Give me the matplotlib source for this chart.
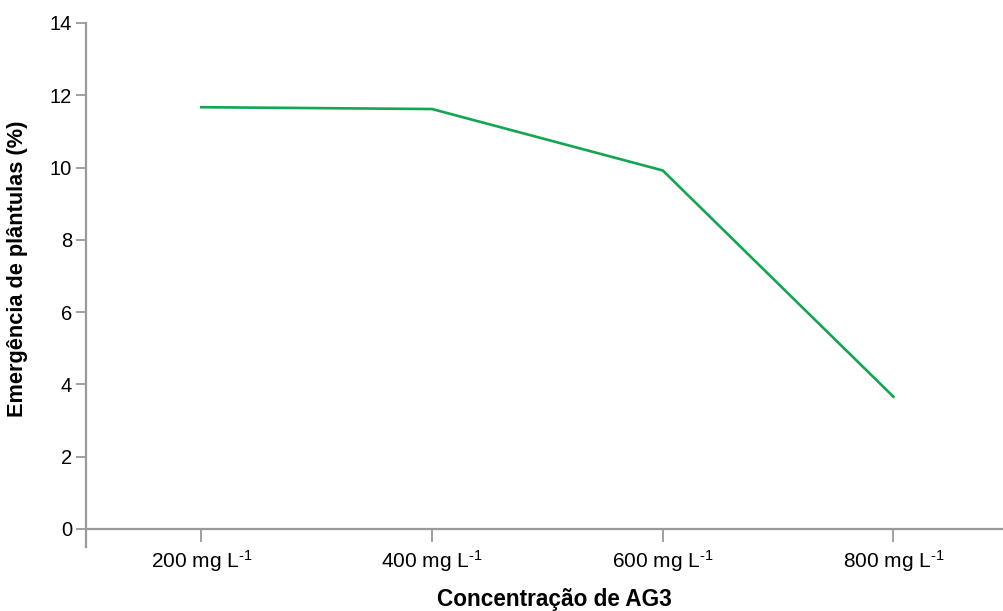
import matplotlib
matplotlib.use("Agg")
import matplotlib.pyplot as plt

plt.rcParams["font.family"] = ["Liberation Sans", "DejaVu Sans"]
plt.rcParams["mathtext.fontset"] = "custom"
plt.rcParams["mathtext.rm"] = "Liberation Sans"

# dados
concentracoes = ["200", "400", "600", "800"]
emergencia = [11.67, 11.62, 9.92, 3.66]
rotulos = [c + " mg L$\\mathregular{^{\u20101}}$" for c in concentracoes]

fig = plt.figure(figsize=(10.04, 6.11), dpi=100)
# o eixo passa um pouco da borda direita, como no original
ax = fig.add_axes([86 / 1004, 82 / 611, (1022.6 - 86) / 1004, (529 - 23) / 611])

x = list(range(len(concentracoes)))
ax.plot(x, emergencia, color="#12A650", linewidth=1.9)

cinza = "#9a9a9a"
ax.set_xlim(-0.5, 3.56)
ax.set_ylim(0, 14)
ax.set_yticks(range(0, 15, 2))
ax.set_xticks(x)
ax.set_xticklabels(rotulos, fontsize=15)
ax.tick_params(axis="y", labelsize=14.5, color=cinza, length=7, width=1.3, pad=3)
ax.tick_params(axis="x", color=cinza, length=9, width=1.3, pad=5)

for s in ["top", "right"]:
    ax.spines[s].set_visible(False)
for s in ["left", "bottom"]:
    ax.spines[s].set_color(cinza)
    ax.spines[s].set_linewidth(1.6)

# tick extra no inicio do eixo x
ax.plot([-0.5, -0.5], [0, -0.035], transform=ax.get_xaxis_transform(),
        color=cinza, linewidth=1.6, clip_on=False)

ax.set_xlabel("Concentração de AG3", fontsize=16.3, fontweight="bold", labelpad=10)
ax.set_ylabel("Emergência de plântulas (%)", fontsize=15.7, fontweight="bold")
ax.yaxis.set_label_coords(-0.062, 0.514)

fig.savefig("out.png", dpi=100)
